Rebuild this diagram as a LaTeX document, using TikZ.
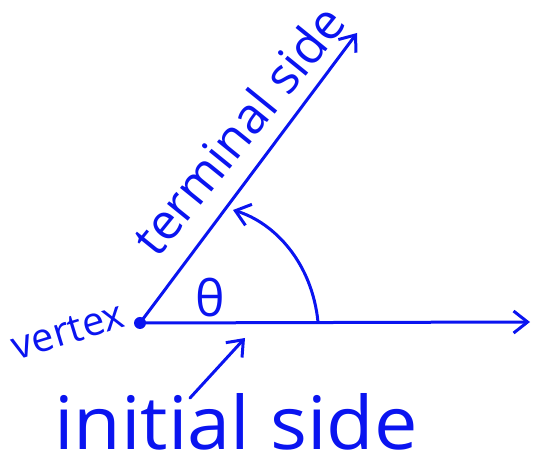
\documentclass[tikz,border=0pt]{standalone}
\usepackage{fontspec}
\setmainfont{Open Sans}
\usetikzlibrary{arrows.meta}
\definecolor{ink}{RGB}{10,20,240}
\tikzset{
  pen/.style={draw=ink, line width=3bp, line cap=round, line join=round},
  barb/.style={-{Straight Barb[length=14bp,width=22bp,line width=3bp]}},
  lbl/.style={text=ink, inner sep=0pt}
}
\begin{document}
\begin{tikzpicture}[x=1bp,y=1bp]
\useasboundingbox (0,0) rectangle (535,468);
\coordinate (V) at (140,145);
\coordinate (R) at (530,146);
\coordinate (T) at (357,435);
\coordinate (A) at (318,146);
\coordinate (B) at (233,258);
\coordinate (P) at (190,70);
\coordinate (Q) at (245,130);
\draw[pen,barb] (V) -- (R);
\draw[pen,barb] (V) -- (T);
\draw[pen,barb] (A) .. controls (312,205) and (275,245) .. (B);
\draw[pen,barb] (P) -- (Q);
\fill[ink] (V) circle (6bp);
\node[lbl, font=\fontsize{40}{40}\selectfont, rotate=17] (vx) at (68,137) {vertex};
\node[lbl, font=\fontsize{50}{50}\selectfont] (th) at (210,170) {θ};
\node[lbl, font=\fontsize{50}{50}\selectfont, rotate=51] (ts) at (238,338) {terminal side};
\node[lbl, font=\fontsize{74}{74}\selectfont, xscale=1.05] (is) at (236,46) {initial side};
\end{tikzpicture}
\end{document}
